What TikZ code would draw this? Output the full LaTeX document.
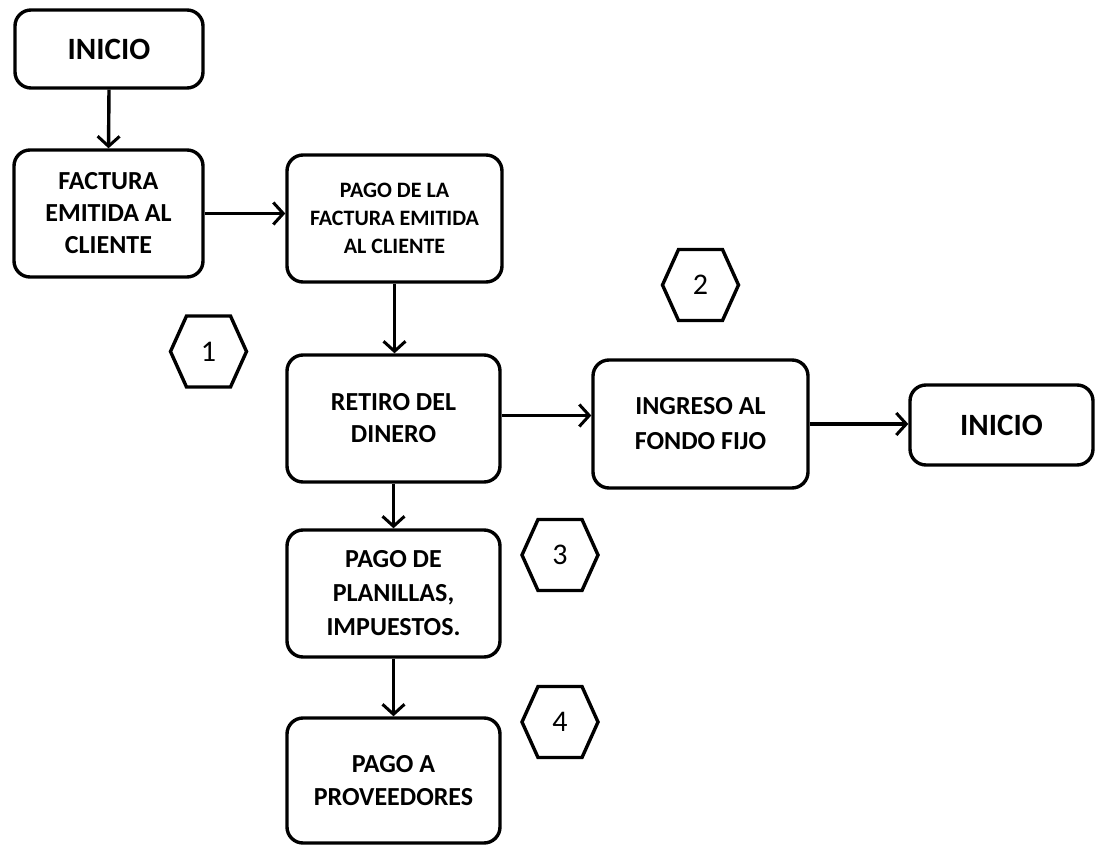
\documentclass[tikz,border=0pt]{standalone}
\usepackage{fontspec}
\setmainfont{Carlito}
\usetikzlibrary{arrows.meta,calc}
\begin{document}
\begin{tikzpicture}[x=1pt,y=-1pt,
  box/.style={draw, line width=3.4pt, rounded corners=16pt, fill=white,
    align=center, font=\bfseries, inner sep=0pt},
  flow/.style={line width=3.4pt, -{Straight Barb[length=10pt,width=22pt,line width=3pt]}},
  hexline/.style={line width=3.4pt, line join=miter},
  hexnum/.style={font=\fontsize{30}{32}\selectfont, inner sep=0pt}]
\useasboundingbox (0,0) rectangle (1095,845);

% process boxes
\node[box, minimum width=188pt, minimum height=78pt,
  font=\bfseries\fontsize{31}{36}\selectfont] (ini1) at (109,49) {INICIO};
\node[box, minimum width=189pt, minimum height=127pt,
  font=\bfseries\fontsize{26}{32}\selectfont] (fac) at (108.5,213.5)
  {FACTURA\\EMITIDA AL\\CLIENTE};
\node[box, minimum width=215pt, minimum height=127pt,
  font=\bfseries\fontsize{22}{28}\selectfont] (pago) at (394.5,218.5)
  {PAGO DE LA\\FACTURA EMITIDA\\AL CLIENTE};
\node[box, minimum width=213pt, minimum height=127pt,
  font=\bfseries\fontsize{26}{32}\selectfont] (ret) at (393.5,418.5)
  {RETIRO DEL\\DINERO};
\node[box, minimum width=215pt, minimum height=128pt,
  font=\bfseries\fontsize{26}{35}\selectfont] (ing) at (700.5,424)
  {INGRESO AL\\FONDO FIJO};
\node[box, minimum width=183pt, minimum height=80pt,
  font=\bfseries\fontsize{31}{36}\selectfont] (ini2) at (1001.5,425) {INICIO};
\node[box, minimum width=213pt, minimum height=127pt,
  font=\bfseries\fontsize{26}{34}\selectfont] (pla) at (393.5,593.5)
  {PAGO DE\\PLANILLAS,\\IMPUESTOS.};
\node[box, minimum width=213pt, minimum height=125pt,
  font=\bfseries\fontsize{26}{33}\selectfont] (prov) at (393.5,780.5)
  {PAGO A\\PROVEEDORES};

% connectors
\draw[flow] (ini1.south) -- (fac.north);
\draw[flow] (fac.east) -- (fac.east -| pago.west);
\draw[flow] (pago.south) -- (pago.south |- ret.north);
\draw[flow] ($(ret.east)+(0,-3)$) -- ($(ret.east -| ing.west)+(0,-3)$);
\draw[flow] (ing.east) -- (ing.east -| ini2.west);
\draw[flow] (ret.south) -- (ret.south |- pla.north);
\draw[flow] (pla.south) -- (pla.south |- prov.north);

% numbered step markers
\foreach \n/\cx/\cy in {1/208.5/351.5, 2/700.5/285, 3/560/555, 4/560/722}{
  \node[hexnum] (hex\n) at (\cx,\cy) {\n};
  \draw[hexline] ($(hex\n.center)+(-38,0)$) -- ++(16,-35.5) -- ++(44,0)
    -- ++(16,35.5) -- ++(-16,35.5) -- ++(-44,0) -- cycle;
}
\end{tikzpicture}
\end{document}
